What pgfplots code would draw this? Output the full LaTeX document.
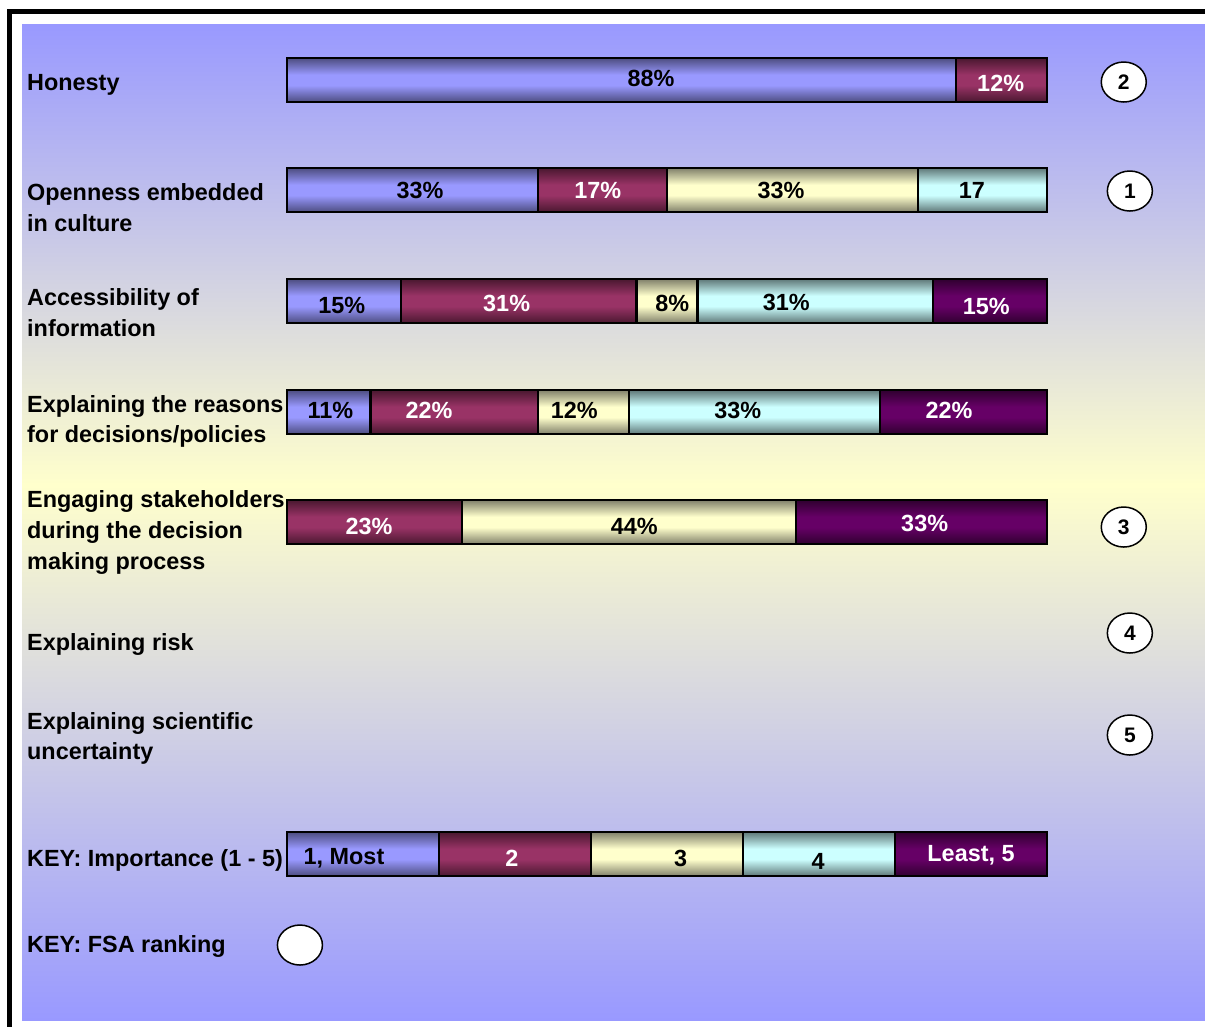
\documentclass[border=0pt]{standalone}
\usepackage{fontspec}
\setmainfont{Liberation Sans}
\usepackage{pgfplots}
\pgfplotsset{compat=1.18}
\usetikzlibrary{shapes.geometric}

% panel background
\definecolor{bgblue}{HTML}{9999FF}
\definecolor{bgyellow}{HTML}{FFFFCC}
% importance levels: centre colour / edge colour
\definecolor{lvA}{HTML}{9999FF}\definecolor{lvAd}{HTML}{4D4D80}
\definecolor{lvB}{HTML}{993366}\definecolor{lvBd}{HTML}{4A1830}
\definecolor{lvC}{HTML}{FFFFCC}\definecolor{lvCd}{HTML}{80806A}
\definecolor{lvD}{HTML}{CCFFFF}\definecolor{lvDd}{HTML}{5F7878}
\definecolor{lvE}{HTML}{660066}\definecolor{lvEd}{HTML}{300030}

% cylinder-like bar shadings (dark edges, light middle)
\pgfdeclareverticalshading{barA}{100bp}{color(0bp)=(lvAd); color(25bp)=(lvAd); color(44bp)=(lvA); color(56bp)=(lvA); color(75bp)=(lvAd); color(100bp)=(lvAd)}
\pgfdeclareverticalshading{barB}{100bp}{color(0bp)=(lvBd); color(25bp)=(lvBd); color(44bp)=(lvB); color(56bp)=(lvB); color(75bp)=(lvBd); color(100bp)=(lvBd)}
\pgfdeclareverticalshading{barC}{100bp}{color(0bp)=(lvCd); color(25bp)=(lvCd); color(44bp)=(lvC); color(56bp)=(lvC); color(75bp)=(lvCd); color(100bp)=(lvCd)}
\pgfdeclareverticalshading{barD}{100bp}{color(0bp)=(lvDd); color(25bp)=(lvDd); color(44bp)=(lvD); color(56bp)=(lvD); color(75bp)=(lvDd); color(100bp)=(lvDd)}
\pgfdeclareverticalshading{barE}{100bp}{color(0bp)=(lvEd); color(25bp)=(lvEd); color(44bp)=(lvE); color(56bp)=(lvE); color(75bp)=(lvEd); color(100bp)=(lvEd)}

\newcommand\lab{\fontsize{23.4bp}{28bp}\selectfont\bfseries}

\begin{document}
\begin{tikzpicture}[x=1bp,y=-1bp]
\useasboundingbox (0,0) rectangle (1205,1027);
\fill[white] (0,0) rectangle (1205,1027);
% gradient panel
\shade[top color=bgblue, bottom color=bgyellow] (22,24) rectangle (1205,485);
\shade[top color=bgyellow, bottom color=bgblue] (22,484.5) rectangle (1205,1020);
% frame
\draw[line width=5bp] (9.5,1027) -- (9.5,11.5) -- (1205,11.5);

\pgfplotsset{
  panel/.style={
    at={(287bp,-1027bp)}, anchor=south west, scale only axis,
    width=760bp, height=1027bp,
    xmin=0, xmax=100, ymin=0, ymax=1027, y dir=reverse,
    axis lines=none, ticks=none, clip=false},
  row/.style={panel, xbar stacked, bar width=44},
  seg/.style={draw=black, line width=2.5bp, shade, shading=#1},
}

% one stacked bar per row, so each segment gets its own shading
% Honesty
\begin{axis}[row]
\addplot[seg=barA] coordinates {(88,80)};
\addplot[seg=barB] coordinates {(12,80)};
\end{axis}
% Openness embedded in culture
\begin{axis}[row]
\addplot[seg=barA] coordinates {(33,190)};
\addplot[seg=barB] coordinates {(17,190)};
\addplot[seg=barC] coordinates {(33,190)};
\addplot[seg=barD] coordinates {(17,190)};
\end{axis}
% Accessibility of information
\begin{axis}[row]
\addplot[seg=barA] coordinates {(15,301)};
\addplot[seg=barB] coordinates {(31,301)};
\addplot[seg=barC] coordinates {(8,301)};
\addplot[seg=barD] coordinates {(31,301)};
\addplot[seg=barE] coordinates {(15,301)};
\end{axis}
% Explaining the reasons for decisions/policies
\begin{axis}[row]
\addplot[seg=barA] coordinates {(11,412)};
\addplot[seg=barB] coordinates {(22,412)};
\addplot[seg=barC] coordinates {(12,412)};
\addplot[seg=barD] coordinates {(33,412)};
\addplot[seg=barE] coordinates {(22,412)};
\end{axis}
% Engaging stakeholders
\begin{axis}[row]
\addplot[seg=barB] coordinates {(23,522)};
\addplot[seg=barC] coordinates {(44,522)};
\addplot[seg=barE] coordinates {(33,522)};
\end{axis}
% key: importance levels
\begin{axis}[row]
\addplot[seg=barA] coordinates {(20,854)};
\addplot[seg=barB] coordinates {(20,854)};
\addplot[seg=barC] coordinates {(20,854)};
\addplot[seg=barD] coordinates {(20,854)};
\addplot[seg=barE] coordinates {(20,854)};
\end{axis}

% segment labels and FSA ranking circles
\begin{axis}[panel,
  lbl/.style={draw=none, mark=none, nodes near coords={\pgfplotspointmeta},
    point meta=explicit symbolic,
    every node near coord/.append style={anchor=center, inner sep=0pt, font=\lab, text=#1}}]
\addplot[lbl=black] coordinates {
  (47.9,78) [88\%]
  (17.5,190) [33\%] (65.0,190) [33\%] (90.1,190) [17]
  (7.2,305) [15\%] (50.7,303) [8\%] (65.7,302) [31\%]
  (5.7,410) [11\%] (37.8,410) [12\%] (59.3,410) [33\%]
  (45.7,526) [44\%]
  (7.5,858) [1, Most] (51.8,858) [3] (69.9,861) [4]};
\addplot[lbl=white] coordinates {
  (93.9,83) [12\%]
  (40.9,190) [17\%]
  (28.9,303) [31\%] (92.0,306) [15\%]
  (18.7,410) [22\%] (87.1,410) [22\%]
  (10.8,526) [23\%] (83.9,523) [33\%]
  (29.6,858) [2] (90.0,855) [{Least, 5}]};
\addplot[draw=none, mark=none, nodes near coords={\pgfplotspointmeta},
  point meta=explicit symbolic,
  every node near coord/.append style={anchor=center, ellipse, draw=black,
    line width=1.5bp, fill=white, minimum width=45bp, minimum height=40bp,
    inner sep=0pt, font=\fontsize{21bp}{24bp}\selectfont\bfseries, text=black}]
  coordinates {(110.1,82) [2] (110.9,191) [1] (110.1,527) [3]
    (110.9,633) [4] (110.9,735) [5] (1.7,945) [\phantom{0}]};
\end{axis}

% row captions
\begin{scope}[every node/.style={anchor=base west, inner sep=0pt, font=\lab}]
\node at (27,90) {Honesty};
\node at (27,200.5) {Openness embedded};
\node at (27,231.5) {in culture};
\node at (27,305.5) {Accessibility of};
\node at (27,336.5) {information};
\node at (27,412.5) {Explaining the reasons};
\node at (27,442.5) {for decisions/policies};
\node at (27,507.5) {Engaging stakeholders};
\node at (27,538.5) {during the decision};
\node at (27,569.5) {making process};
\node at (27,650.5) {Explaining risk};
\node at (27,729.5) {Explaining scientific};
\node at (27,759.5) {uncertainty};
\node at (27,866.5) {KEY: Importance (1 - 5)};
\node at (27,952.5) {KEY: FSA ranking};
\end{scope}
\end{tikzpicture}
\end{document}
